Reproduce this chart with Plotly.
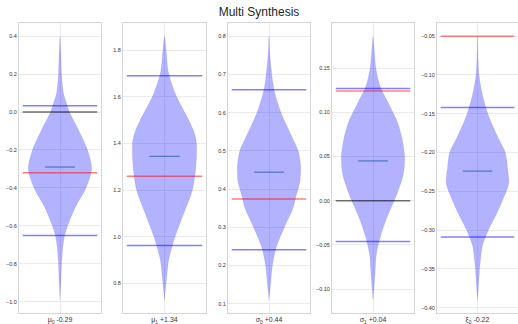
import plotly.graph_objects as go

# ---------------- data ----------------
labels = ["μ<sub>0</sub> -0.29", "μ<sub>1</sub> +1.34", "σ<sub>0</sub> +0.44",
          "σ<sub>1</sub> +0.04", "ξ<sub>0</sub> -0.22"]

# density profile of each posterior: value levels and relative half-width
prof_y1 = [0.40, 0.30, 0.20, 0.10, 0.05, 0.00, -0.10, -0.20, -0.30, -0.40, -0.50, -0.60, -0.65, -0.70, -0.80, -0.90, -0.99]
prof_w1 = [0.00, 0.03, 0.05, 0.11, 0.20, 0.30, 0.60, 0.87, 1.00, 0.82, 0.49, 0.24, 0.15, 0.10, 0.05, 0.03, 0.00]

prof_y2 = [1.86, 1.80, 1.70, 1.60, 1.50, 1.45, 1.40, 1.30, 1.20, 1.10, 1.00, 0.96, 0.90, 0.80, 0.73]
prof_w2 = [0.00, 0.05, 0.13, 0.38, 0.76, 0.92, 1.00, 0.98, 0.87, 0.60, 0.33, 0.24, 0.13, 0.05, 0.00]

prof_y3 = [0.80, 0.75, 0.70, 0.66, 0.60, 0.55, 0.50, 0.46, 0.42, 0.40, 0.38, 0.35, 0.30, 0.25, 0.20, 0.15, 0.11]
prof_w3 = [0.00, 0.03, 0.09, 0.16, 0.38, 0.65, 0.92, 1.00, 0.98, 0.92, 0.85, 0.76, 0.49, 0.24, 0.11, 0.05, 0.00]

prof_y4 = [0.186, 0.17, 0.15, 0.13, 0.11, 0.09, 0.07, 0.05, 0.03, 0.01, 0.00, -0.02, -0.04, -0.06, -0.08, -0.10, -0.112]
prof_w4 = [0.00, 0.04, 0.09, 0.22, 0.49, 0.76, 0.92, 1.00, 0.96, 0.78, 0.67, 0.43, 0.24, 0.11, 0.07, 0.03, 0.00]

prof_y5 = [-0.05, -0.08, -0.10, -0.12, -0.15, -0.18, -0.20, -0.22, -0.24, -0.26, -0.28, -0.30, -0.32, -0.35, -0.38, -0.39]
prof_w5 = [0.00, 0.02, 0.05, 0.13, 0.33, 0.65, 0.89, 0.96, 1.00, 0.82, 0.60, 0.35, 0.16, 0.07, 0.02, 0.00]

medians = [-0.29, 1.345, 0.444, 0.045, -0.224]
blue_hi = [0.033, 1.69, 0.66, 0.127, -0.142]
blue_lo = [-0.651, 0.963, 0.241, -0.046, -0.309]
red_vals = [-0.32, 1.26, 0.374, 0.124, -0.05]
black_vals = [0.0, None, None, 0.0, None]

yticks = [
    [-1.0, -0.8, -0.6, -0.4, -0.2, 0.0, 0.2, 0.4],
    [0.8, 1.0, 1.2, 1.4, 1.6, 1.8],
    [0.1, 0.2, 0.3, 0.4, 0.5, 0.6, 0.7, 0.8],
    [-0.10, -0.05, 0.00, 0.05, 0.10, 0.15],
    [-0.40, -0.35, -0.30, -0.25, -0.20, -0.15, -0.10, -0.05],
]
ytickfmt = [".1f", ".1f", ".1f", ".2f", ".2f"]

profiles = [(prof_y1, prof_w1), (prof_y2, prof_w2), (prof_y3, prof_w3),
            (prof_y4, prof_w4), (prof_y5, prof_w5)]

# ---------------- layout / style ----------------
W, H = 518, 324
panels_px = [(19, 101), (123, 206), (228, 310), (332, 414), (437, 518)]
top_px, bot_px = 23, 313
ydom = [(H - bot_px) / H, (H - top_px) / H]
MAXW = 0.85

fill_c = "rgba(0,0,255,0.3)"
blue_c = "rgba(0,0,255,0.5)"
red_c = "rgba(255,0,0,0.5)"
black_c = "rgba(0,0,0,0.55)"
med_c = "rgba(70,110,190,0.85)"
grid_c = "#ebebeb"
frame_c = "#d6d6d6"
font_f = "Liberation Sans, Arial, sans-serif"

fig = go.Figure()
layout = dict(
    template="none",
    width=W, height=H, margin=dict(l=0, r=0, t=0, b=0, pad=0),
    paper_bgcolor="white", plot_bgcolor="white", showlegend=False,
    font=dict(family=font_f, color="#333333"),
    title=dict(text="Multi Synthesis", x=0.5, xanchor="center", y=1 - 12 / H,
               yanchor="middle", font=dict(size=12, color="#262626", family=font_f)),
)

for i, ((py, pw), lab) in enumerate(zip(profiles, labels)):
    n = i + 1
    xa = "x" if n == 1 else f"x{n}"
    ya = "y" if n == 1 else f"y{n}"
    hw = [w * MAXW for w in pw]
    xs = hw + [-v for v in hw[::-1]]
    ys = py + py[::-1]
    fig.add_trace(go.Scatter(x=xs, y=ys, xaxis=xa, yaxis=ya, mode="lines",
                             fill="toself", fillcolor=fill_c,
                             line=dict(color="rgba(0,0,255,0.12)", width=0.5, shape="spline", smoothing=0.8),
                             hoverinfo="skip"))
    lines = [(blue_hi[i], blue_c), (blue_lo[i], blue_c), (red_vals[i], red_c)]
    if black_vals[i] is not None:
        lines.append((black_vals[i], black_c))
    for v, c in lines:
        fig.add_trace(go.Scatter(x=[-1, 1], y=[v, v], xaxis=xa, yaxis=ya, mode="lines",
                                 line=dict(color=c, width=1.5), hoverinfo="skip"))
    fig.add_trace(go.Scatter(x=[-0.4, 0.4], y=[medians[i], medians[i]], xaxis=xa, yaxis=ya,
                             mode="lines", line=dict(color=med_c, width=1.3), hoverinfo="skip"))

    vals = py + [blue_hi[i], blue_lo[i], red_vals[i], medians[i]]
    if black_vals[i] is not None:
        vals.append(black_vals[i])
    lo, hi = min(vals), max(vals)
    pad = 0.05 * (hi - lo)
    x0, x1 = panels_px[i]
    xkey = "xaxis" if n == 1 else f"xaxis{n}"
    ykey = "yaxis" if n == 1 else f"yaxis{n}"
    layout[xkey] = dict(domain=[x0 / W, x1 / W], range=[-1.1, 1.1], anchor=ya, automargin=False,
                        tickvals=[0], ticktext=[lab], showgrid=True, gridcolor=grid_c, gridwidth=1,
                        zeroline=False, showline=True, mirror=True, linecolor=frame_c, linewidth=1,
                        ticks="", ticklen=0, tickfont=dict(size=7, color="#333333"), fixedrange=True)
    layout[ykey] = dict(domain=ydom, range=[lo - pad, hi + pad], anchor=xa, automargin=False,
                        tickvals=yticks[i], tickformat=ytickfmt[i], showgrid=True,
                        gridcolor=grid_c, gridwidth=1, zeroline=False, showline=True, mirror=True,
                        linecolor=frame_c, linewidth=1, ticks="", ticklen=0,
                        tickfont=dict(size=5.5, color="#333333"), fixedrange=True)

fig.update_layout(**layout)
fig.write_html("out.html", config={"displayModeBar": False},
               post_script="document.body.style.margin='0';document.body.style.overflow='hidden';")
